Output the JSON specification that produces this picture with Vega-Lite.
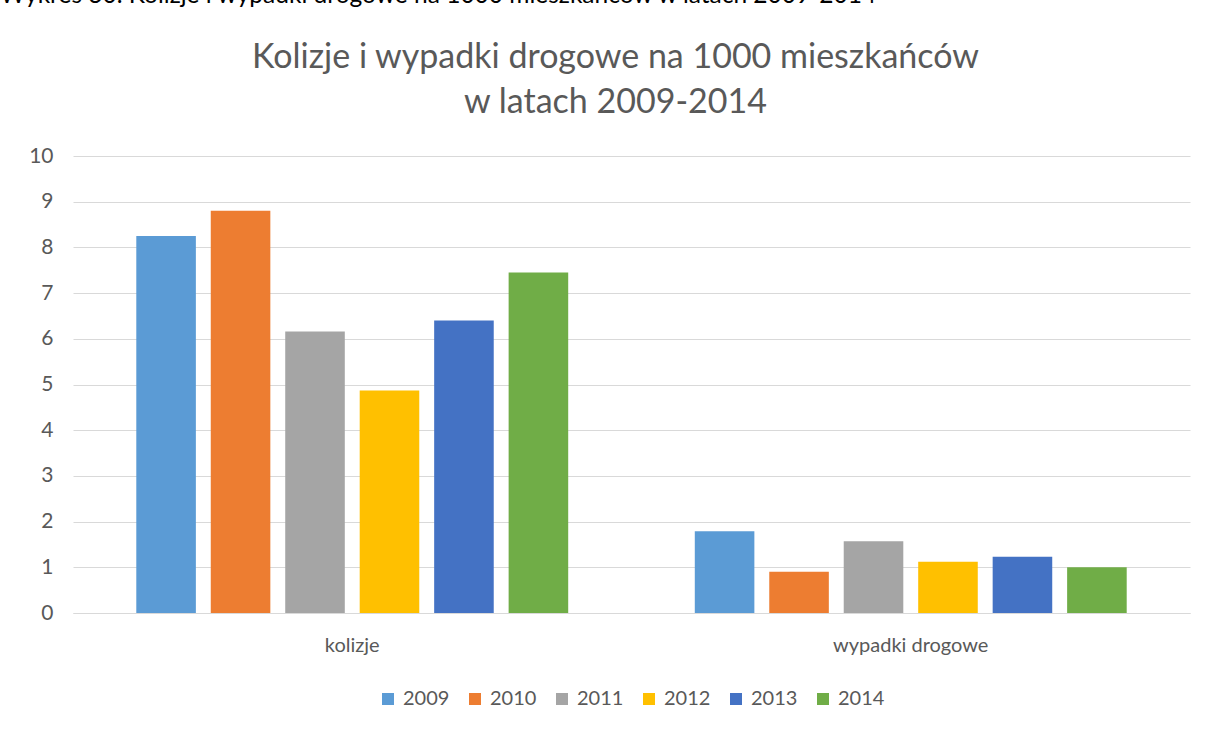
{
  "$schema": "https://vega.github.io/schema/vega-lite/v6.json",
  "width": 1208,
  "height": 729,
  "autosize": {"type": "fit", "contains": "padding"},
  "padding": {"left": 0, "top": -18, "right": 18, "bottom": 20},
  "background": "white",
  "title": {
    "text": "Wykres 30. Kolizje i wypadki drogowe na 1000 mieszkańców w latach 2009-2014",
    "font": "Lato",
    "fontSize": 24.5,
    "fontWeight": "normal",
    "color": "#000000",
    "anchor": "start",
    "frame": "group",
    "dx": -73,
    "offset": 32
  },
  "data": {
    "values": [
      {"kategoria": "kolizje", "rok": "2009", "wartosc": 8.25},
      {"kategoria": "kolizje", "rok": "2010", "wartosc": 8.80},
      {"kategoria": "kolizje", "rok": "2011", "wartosc": 6.16},
      {"kategoria": "kolizje", "rok": "2012", "wartosc": 4.87},
      {"kategoria": "kolizje", "rok": "2013", "wartosc": 6.40},
      {"kategoria": "kolizje", "rok": "2014", "wartosc": 7.45},
      {"kategoria": "wypadki drogowe", "rok": "2009", "wartosc": 1.79},
      {"kategoria": "wypadki drogowe", "rok": "2010", "wartosc": 0.90},
      {"kategoria": "wypadki drogowe", "rok": "2011", "wartosc": 1.57},
      {"kategoria": "wypadki drogowe", "rok": "2012", "wartosc": 1.12},
      {"kategoria": "wypadki drogowe", "rok": "2013", "wartosc": 1.23},
      {"kategoria": "wypadki drogowe", "rok": "2014", "wartosc": 1.00}
    ]
  },
  "mark": {"type": "bar"},
  "encoding": {
    "x": {
      "field": "kategoria",
      "type": "nominal",
      "scale": {"paddingInner": 0, "paddingOuter": 0},
      "axis": {
        "title": null,
        "labelAngle": 0,
        "labelFont": "Lato",
        "labelFontSize": 20,
        "labelColor": "#595959",
        "labelPadding": 22,
        "ticks": false,
        "domainColor": "#d9d9d9",
        "domainWidth": 1
      }
    },
    "xOffset": {
      "field": "rok",
      "type": "nominal",
      "scale": {"paddingInner": 0.2, "paddingOuter": 0.85}
    },
    "y": {
      "field": "wartosc",
      "type": "quantitative",
      "scale": {"domain": [0, 10], "nice": false},
      "axis": {
        "title": ["Kolizje i wypadki drogowe na 1000 mieszkańców", "w latach 2009-2014"],
        "titleAngle": 0,
        "titleX": 542,
        "titleY": -89,
        "titleAlign": "center",
        "titleBaseline": "alphabetic",
        "titleFont": "Lato",
        "titleFontSize": 34,
        "titleLineHeight": 45,
        "titleFontWeight": "normal",
        "titleColor": "#595959",
        "values": [0, 1, 2, 3, 4, 5, 6, 7, 8, 9, 10],
        "labelFont": "Lato",
        "labelFontSize": 21,
        "labelColor": "#595959",
        "labelPadding": 20,
        "ticks": false,
        "domain": false,
        "grid": true,
        "gridColor": "#d9d9d9",
        "gridWidth": 1
      }
    },
    "color": {
      "field": "rok",
      "type": "nominal",
      "scale": {
        "domain": ["2009", "2010", "2011", "2012", "2013", "2014"],
        "range": ["#5B9BD5", "#ED7D31", "#A5A5A5", "#FFC000", "#4472C4", "#70AD47"]
      },
      "legend": {
        "title": null,
        "orient": "bottom",
        "direction": "horizontal",
        "symbolType": "square",
        "symbolSize": 144,
        "symbolStrokeWidth": 0,
        "labelFont": "Lato",
        "labelFontSize": 20,
        "labelColor": "#595959",
        "labelOffset": 5,
        "columnPadding": 15,
        "offset": 34
      }
    }
  },
  "config": {
    "view": {"stroke": null},
    "legend": {"layout": {"bottom": {"anchor": "middle"}}}
  }
}
